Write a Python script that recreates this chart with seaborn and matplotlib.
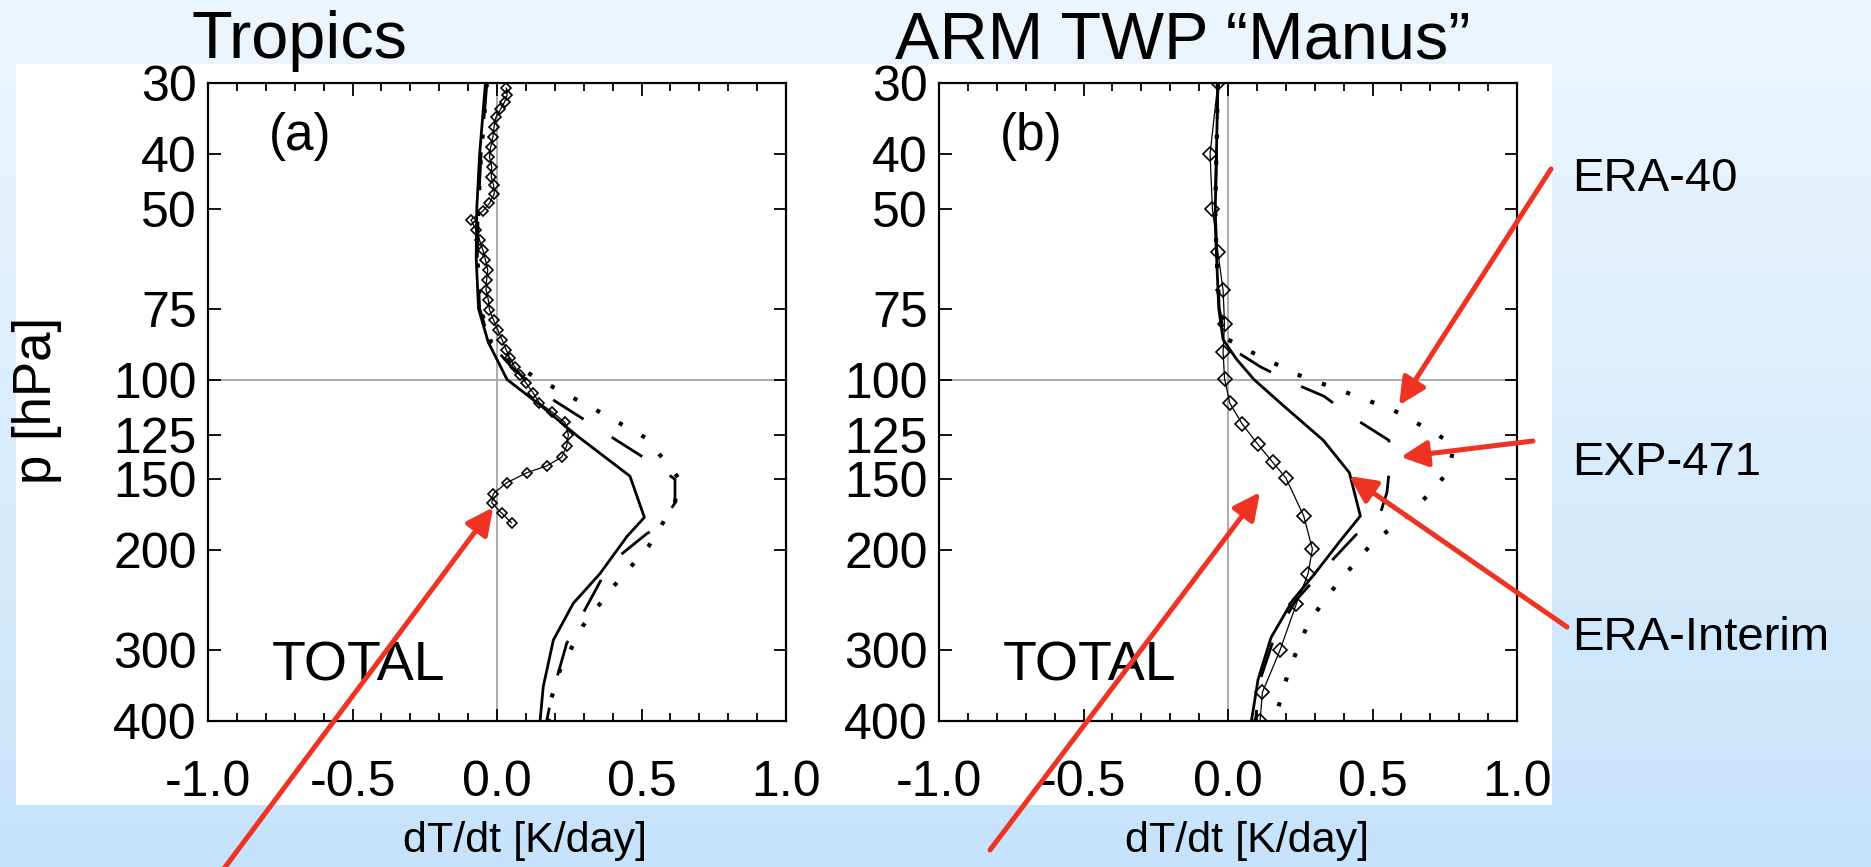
import numpy as np
import matplotlib
matplotlib.use("Agg")
import matplotlib.pyplot as plt
import seaborn as sns
from matplotlib.patches import Rectangle
from matplotlib.ticker import NullLocator, MultipleLocator

# ---------------- data ----------------
# Panel (a) Tropics
obs_a_p = [30.6, 31.5, 32.4, 33.4, 34.4, 35.8, 37.3, 38.9, 40.5, 42.2, 43.9, 45.4, 47.0, 48.9,
           50.5, 52.3, 54.5, 56.8, 59.1, 61.5, 64.1, 66.8, 69.5, 72.4, 75.4, 78.5, 81.8, 85.2,
           88.7, 91.8, 94.9, 98.2, 101.5, 105.5, 110, 114, 119, 125, 131, 137, 142, 146, 152,
           159, 165, 172, 179]
obs_a_x = [0.032, 0.035, 0.026, 0.012, -0.003, -0.010, -0.014, -0.022, -0.026, -0.018, -0.020,
           -0.012, -0.009, -0.026, -0.050, -0.090, -0.072, -0.060, -0.049, -0.040, -0.032, -0.036,
           -0.038, -0.030, -0.026, -0.012, 0.003, 0.018, 0.032, 0.045, 0.061, 0.080, 0.101, 0.125,
           0.147, 0.190, 0.235, 0.247, 0.241, 0.224, 0.172, 0.103, 0.034, -0.013, -0.018, 0.016,
           0.051]
sol_a_p = [30, 40, 50, 61, 75, 86, 100, 111, 126, 148, 175, 189, 220, 248, 288, 348, 400]
sol_a_x = [-0.04, -0.06, -0.07, -0.072, -0.064, -0.03, 0.035, 0.15, 0.28, 0.46, 0.51, 0.45,
           0.356, 0.264, 0.195, 0.16, 0.149]
dash_a_p = [30, 40, 50, 61, 75, 86, 95, 105, 121, 142, 150, 165, 181, 187, 211, 292, 362, 400]
dash_a_x = [-0.035, -0.055, -0.065, -0.068, -0.06, -0.025, 0.05, 0.149, 0.339, 0.553, 0.616,
            0.616, 0.564, 0.518, 0.391, 0.241, 0.189, 0.172]
dot_a_p = [30, 40, 50, 61, 75, 86, 95, 104, 115, 127, 149, 165, 197, 232, 271, 325, 372, 400]
dot_a_x = [-0.035, -0.055, -0.065, -0.068, -0.058, -0.02, 0.07, 0.207, 0.368, 0.518, 0.627,
           0.616, 0.524, 0.402, 0.299, 0.218, 0.183, 0.178]

# Panel (b) ARM TWP "Manus"
obs_b_p = [30, 40, 50, 59.6, 69.6, 79.8, 89.4, 99.6, 110, 120, 130, 140, 149, 174, 199, 220,
           249, 300, 356, 400]
obs_b_x = [-0.035, -0.062, -0.054, -0.035, -0.017, -0.012, -0.017, -0.012, 0.006, 0.05, 0.103,
           0.155, 0.2, 0.262, 0.292, 0.277, 0.236, 0.18, 0.119, 0.111]
sol_b_p = [30, 40, 50, 60, 75, 85, 92, 100, 111, 128, 146, 174, 192, 220, 245, 285, 338, 400]
sol_b_x = [-0.035, -0.04, -0.044, -0.04, -0.032, -0.017, 0.029, 0.09, 0.19, 0.33, 0.42, 0.458,
           0.39, 0.30, 0.224, 0.149, 0.104, 0.081]
dash_b_p = [30, 40, 50, 60, 75, 85, 90, 95, 101, 107, 117, 128, 146, 158, 171, 188, 211, 245,
            285, 340, 400]
dash_b_x = [-0.035, -0.04, -0.044, -0.04, -0.03, -0.01, 0.04, 0.113, 0.217, 0.332, 0.436, 0.557,
            0.557, 0.55, 0.529, 0.442, 0.35, 0.235, 0.16, 0.11, 0.095]
dot_b_p = [30, 40, 50, 60, 75, 85, 89, 98, 105, 113, 125, 131, 146, 170, 194, 229, 267, 325,
           393, 400]
dot_b_x = [-0.035, -0.04, -0.044, -0.04, -0.03, 0.0, 0.072, 0.24, 0.401, 0.569, 0.725, 0.783,
           0.76, 0.644, 0.50, 0.378, 0.28, 0.211, 0.165, 0.163]

y_ticks = [30, 40, 50, 75, 100, 125, 150, 200, 300, 400]
y_tick_labels = ["30", "40", "50", "75", "100", "125", "150", "200", "300", "400"]
x_ticks = [-1.0, -0.5, 0.0, 0.5, 1.0]
x_tick_labels = ["-1.0", "-0.5", "0.0", "0.5", "1.0"]

titles = ["Tropics", "ARM TWP \u201cManus\u201d"]
panel_tags = ["(a)", "(b)"]
side_labels = ["ERA-40", "EXP-471", "ERA-Interim"]

# ---------------- style ----------------
sns.set_style("ticks")
plt.rcParams["font.family"] = ["Liberation Sans", "DejaVu Sans"]
plt.rcParams["axes.unicode_minus"] = False
for key in ["text.color", "axes.labelcolor", "xtick.color", "ytick.color",
            "xtick.labelcolor", "ytick.labelcolor", "axes.edgecolor"]:
    plt.rcParams[key] = "black"

W, H = 1871, 867
fig = plt.figure(figsize=(W / 100, H / 100), dpi=100)


def fx(px):
    return px / W


def fy(py):
    return 1 - py / H


# slide background gradient
bg = fig.add_axes([0, 0, 1, 1], zorder=-10)
grad = np.linspace(0, 1, 256).reshape(-1, 1, 1)
c_top = np.array([238, 246, 253]) / 255
c_bot = np.array([198, 227, 251]) / 255
bg.imshow(c_top + (c_bot - c_top) * grad, aspect="auto", extent=[0, 1, 0, 1], origin="upper")
bg.set_axis_off()

# white figure-image area
fig.add_artist(Rectangle((fx(16), fy(805)), fx(1552) - fx(16), fy(64) - fy(805),
                         transform=fig.transFigure, facecolor="white", edgecolor="none",
                         zorder=-5))

axA = fig.add_axes([fx(208), fy(721), fx(786) - fx(208), fy(83) - fy(721)])
axB = fig.add_axes([fx(939), fy(721), fx(1517) - fx(939), fy(83) - fy(721)])


def draw_panel(ax, obs_x, obs_p, sol_x, sol_p, dash_x, dash_p, dot_x, dot_p, ms, obs_lw):
    sns.lineplot(x=dot_x, y=dot_p, sort=False, estimator=None, ax=ax, color="k", lw=3.0,
                 linestyle=(0, (1, 5.2)))
    sns.lineplot(x=dash_x, y=dash_p, sort=False, estimator=None, ax=ax, color="k", lw=2.0,
                 linestyle=(0, (13, 12)))
    sns.lineplot(x=sol_x, y=sol_p, sort=False, estimator=None, ax=ax, color="k", lw=2.0)
    sns.lineplot(x=obs_x, y=obs_p, sort=False, estimator=None, ax=ax, color="k", lw=obs_lw,
                 marker="D", markersize=ms, markerfacecolor="none", markeredgecolor="k",
                 markeredgewidth=1.2)


def style(ax):
    ax.set_yscale("log")
    ax.set_ylim(400, 30)
    ax.set_xlim(-1, 1)
    ax.set_yticks(y_ticks, labels=y_tick_labels)
    ax.yaxis.set_minor_locator(NullLocator())
    ax.set_xticks(x_ticks, labels=x_tick_labels)
    ax.xaxis.set_minor_locator(MultipleLocator(0.1))
    ax.tick_params(axis="both", which="both", direction="in", top=True, right=True,
                   width=1.3, colors="k")
    ax.tick_params(axis="x", which="major", length=9, pad=28, labelsize=36)
    ax.tick_params(axis="x", which="minor", length=6)
    ax.tick_params(axis="y", which="major", length=9, pad=8, labelsize=36)
    for s in ax.spines.values():
        s.set_linewidth(1.6)
        s.set_color("k")
    ax.axvline(0, color="#a5a5a5", lw=1.3, zorder=0.5)
    ax.axhline(100, color="#a5a5a5", lw=1.3, zorder=0.5)
    ax.set_facecolor("white")
    ax.set_ylabel("")
    ax.set_xlabel("dT/dt [K/day]", fontsize=31, color="k")
    ax.xaxis.label.set_va("center")


draw_panel(axA, obs_a_x, obs_a_p, sol_a_x, sol_a_p, dash_a_x, dash_a_p, dot_a_x, dot_a_p, 5.5, 0.9)
draw_panel(axB, obs_b_x, obs_b_p, sol_b_x, sol_b_p, dash_b_x, dash_b_p, dot_b_x, dot_b_p, 7, 0.9)
style(axA)
style(axB)

axA.xaxis.set_label_coords(0.548, -0.188)
axB.xaxis.set_label_coords(0.533, -0.188)
axA.set_ylabel("p [hPa]", fontsize=38, color="k")
axA.yaxis.label.set_va("center")
axA.yaxis.set_label_coords(-0.295, 0.503)

for ax, tag, title, tx in [(axA, panel_tags[0], titles[0], 0.158),
                           (axB, panel_tags[1], titles[1], 0.422)]:
    ax.text(-0.68, 37.3, tag, ha="center", va="center", fontsize=37, color="k")
    ax.text(-0.48, 321, "TOTAL", ha="center", va="center", fontsize=40, color="k")
    ax.text(tx, 1.039, title, transform=ax.transAxes, ha="center", va="baseline",
            fontsize=48, color="k", clip_on=False)

for lab, ypx in zip(side_labels, [179, 463, 638]):
    fig.text(fx(1572), fy(ypx), lab, ha="left", va="center", fontsize=34, color="k")

red = "#ee3322"


def arrow(ax, tip, tail_px):
    ax.annotate("", xy=tip, xycoords="data", xytext=(tail_px[0], H - tail_px[1]),
                textcoords="figure pixels", annotation_clip=False, zorder=20,
                arrowprops=dict(arrowstyle="-|>,head_length=0.45,head_width=0.22", color=red,
                                lw=3.6, mutation_scale=36, shrinkA=0, shrinkB=0))


arrow(axA, (-0.013, 168), (217, 878))
arrow(axB, (0.111, 158), (990, 850))
arrow(axB, (0.592, 111), (1551, 169))
arrow(axB, (0.598, 137), (1533, 441))
arrow(axB, (0.419, 148), (1567, 627))

fig.savefig("out.png", dpi=100)
